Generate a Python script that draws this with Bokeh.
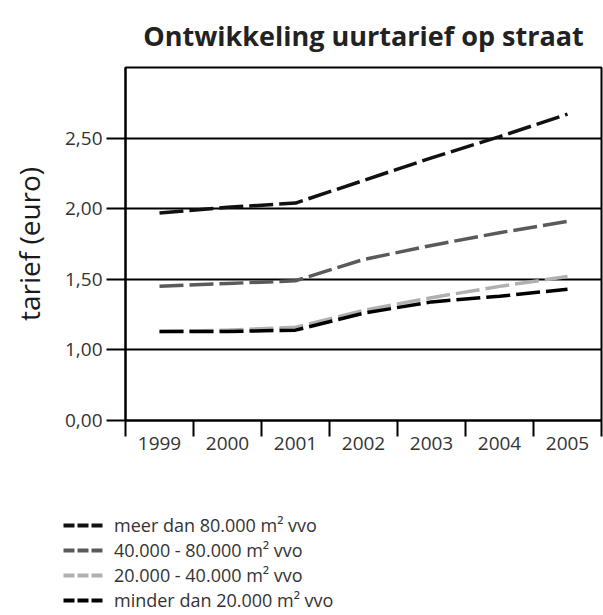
from bokeh.plotting import figure
from bokeh.models import FixedTicker, Legend, LegendItem, Range1d, ColumnDataSource
from bokeh.layouts import column
from bokeh.embed import file_html
from bokeh.resources import INLINE

# ---- data ----
years = [1999, 2000, 2001, 2002, 2003, 2004, 2005]
meer_80000 = [1.97, 2.01, 2.04, 2.20, 2.36, 2.51, 2.67]
van_40000_80000 = [1.45, 1.47, 1.49, 1.64, 1.74, 1.83, 1.91]
van_20000_40000 = [1.13, 1.14, 1.16, 1.28, 1.37, 1.45, 1.52]
minder_20000 = [1.13, 1.13, 1.14, 1.26, 1.34, 1.38, 1.43]

series_names = ["meer dan 80.000 m\u00b2 vvo", "40.000 - 80.000 m\u00b2 vvo",
                "20.000 - 40.000 m\u00b2 vvo", "minder dan 20.000 m\u00b2 vvo"]
series_values = [meer_80000, van_40000_80000, van_20000_40000, minder_20000]
series_colors = ["#111111", "#5a5a5a", "#b0b0b0", "#000000"]

# broken axis: bottom tick (position 0.5 in value space) is labelled 0,00
y_tick_pos = [0.5, 1.0, 1.5, 2.0, 2.5]
y_tick_labels = ["0,00", "1,00", "1,50", "2,00", "2,50"]

FONT = "Open Sans"

p = figure(width=603, height=475, output_backend="svg", toolbar_location=None,
           x_range=Range1d(1998.5, 2005.5), y_range=Range1d(0.5, 3.0),
           min_border_left=125, min_border_right=2, min_border_top=66,
           min_border_bottom=55)

p.title.text = "Ontwikkeling uurtarief op straat"
p.title.align = "center"
p.title.text_font = FONT
p.title.text_font_size = "27px"
p.title.text_font_style = "bold"
p.title.text_color = "#222222"
p.title.text_line_height = 0.8
p.title.standoff = 28

p.outline_line_color = "black"
p.outline_line_width = 2
p.outline_line_alpha = 1

# x axis
p.xaxis.ticker = FixedTicker(ticks=years, minor_ticks=[y - 0.5 for y in years] + [years[-1] + 0.5])
p.xaxis.major_tick_out = 0
p.xaxis.major_tick_in = 0
p.xaxis.major_tick_line_alpha = 0
p.xaxis.minor_tick_out = 16
p.xaxis.minor_tick_in = 0
p.xaxis.minor_tick_line_width = 2
p.xaxis.minor_tick_line_color = "black"
p.xaxis.axis_line_width = 2
p.xaxis.axis_line_color = "black"
p.xaxis.major_label_standoff = 0
p.xaxis.major_label_text_font = FONT
p.xaxis.major_label_text_font_size = "19px"
p.xaxis.major_label_text_color = "#333333"

# y axis
p.yaxis.ticker = FixedTicker(ticks=y_tick_pos, minor_ticks=[])
p.yaxis.major_label_overrides = {t: l for t, l in zip(y_tick_pos, y_tick_labels)}
p.yaxis.major_tick_out = 19
p.yaxis.major_tick_in = 0
p.yaxis.major_tick_line_width = 2
p.yaxis.major_tick_line_color = "black"
p.yaxis.minor_tick_line_alpha = 0
p.yaxis.axis_line_width = 2
p.yaxis.axis_line_color = "black"
p.yaxis.major_label_standoff = 4
p.yaxis.major_label_text_font = FONT
p.yaxis.major_label_text_font_size = "19px"
p.yaxis.major_label_text_color = "#333333"
p.yaxis.axis_label = "tarief (euro)"
p.yaxis.axis_label_text_font = FONT
p.yaxis.axis_label_text_font_size = "28px"
p.yaxis.axis_label_text_font_style = "normal"
p.yaxis.axis_label_text_color = "#1a1a1a"
p.yaxis.axis_label_standoff = 14

p.xgrid.grid_line_color = None
p.ygrid.grid_line_color = "black"
p.ygrid.grid_line_width = 2
p.ygrid.grid_line_alpha = 1

for name, vals, col in zip(series_names, series_values, series_colors):
    src = ColumnDataSource(data=dict(x=years, y=vals))
    p.line("x", "y", source=src, line_color=col, line_width=3.5, line_dash="24 6")

# ---- legend panel below the chart ----
lg = figure(width=603, height=139, output_backend="svg", toolbar_location=None,
            x_range=Range1d(0, 1), y_range=Range1d(0, 1),
            min_border_left=0, min_border_right=0, min_border_top=0, min_border_bottom=0)
if "frame_align" in lg.properties():
    lg.frame_align = False
lg.axis.visible = False
lg.grid.visible = False
lg.outline_line_color = None

nan = float("nan")
items = []
for name, col in zip(series_names, series_colors):
    r = lg.line(x=[nan], y=[nan], line_color=col, line_width=4, line_dash="11 3")
    items.append(LegendItem(label=name, renderers=[r]))

legend = Legend(items=items, location=(63, 2), orientation="vertical",
                padding=0, margin=0, spacing=1, glyph_width=40, glyph_height=20,
                label_height=20, label_standoff=11,
                label_text_font=FONT, label_text_font_size="18px",
                label_text_color="#333333",
                border_line_alpha=0, background_fill_alpha=0)
lg.add_layout(legend, "center")

layout = column(p, lg, spacing=0)
open("out.html", "w").write(file_html(layout, INLINE))
